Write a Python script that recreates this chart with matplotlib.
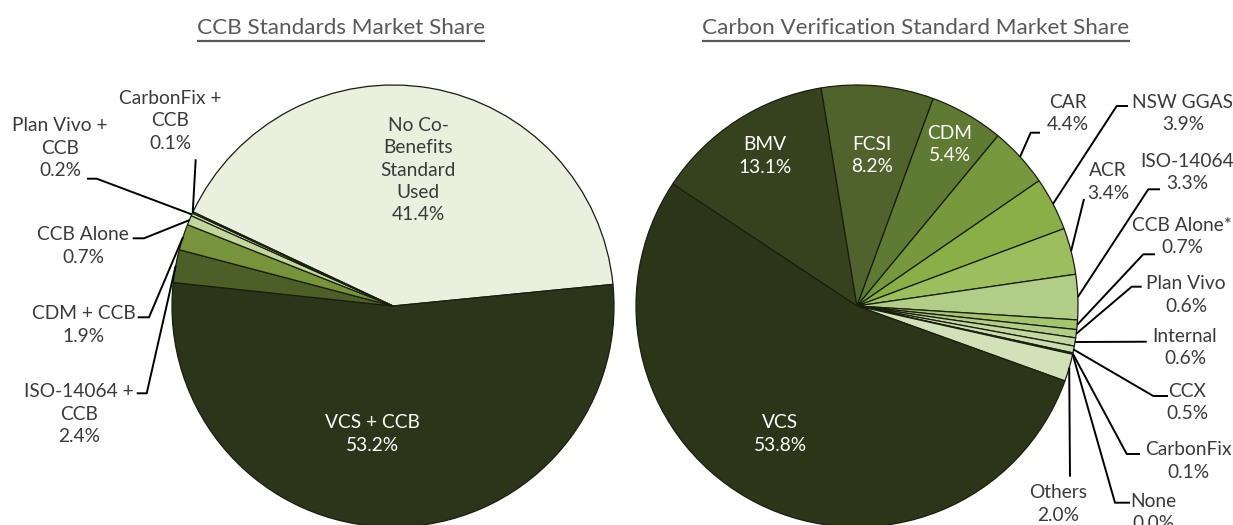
import matplotlib
matplotlib.use("Agg")
import matplotlib.pyplot as plt
import numpy as np

# ---------------- data ----------------
ccb_labels = ["No Co-\nBenefits\nStandard\nUsed", "VCS + CCB", "ISO-14064 +\nCCB", "CDM + CCB",
              "CCB Alone", "Plan Vivo +\nCCB", "CarbonFix +\nCCB"]
ccb_values = [41.4, 53.2, 2.4, 1.9, 0.7, 0.2, 0.1]
ccb_colors = ["#EBEFDD", "#2C3519", "#4D5F28", "#77933C", "#C3D69B", "#D7E4BD", "#E4ECD2"]

cvs_labels = ["BMV", "FCSI", "CDM", "CAR", "NSW GGAS", "ACR", "ISO-14064", "CCB Alone*",
              "Plan Vivo", "Internal", "CCX", "CarbonFix", "None", "Others", "VCS"]
cvs_values = [13.1, 8.2, 5.4, 4.4, 3.9, 3.4, 3.3, 0.7, 0.6, 0.6, 0.5, 0.1, 0.0, 2.0, 53.8]
cvs_colors = ["#36421E", "#50632D", "#5F7A32", "#78983E", "#8AAF47", "#9DBE5E", "#B2CD88",
              "#A5C46E", "#B2CD89", "#C3D7A0", "#CBDCAE", "#B9D197", "#C8DAA8", "#D2E1B8", "#2C3518"]

title_left = "CCB Standards Market Share"
title_right = "Carbon Verification Standard Market Share"

# ---------------- layout ----------------
W, H = 1233, 525
FONT = ["Lato", "DejaVu Sans"]
FS = 13.8
LS = 26.5 / (FS * 100 / 72)
TXT = "#3a3a3a"

def Y(y):
    return H - y

fig = plt.figure(figsize=(W / 100, H / 100), dpi=100)
ax = fig.add_axes([0, 0, 1, 1])

R = 221
c_left = (393, Y(306))
c_right = (857, Y(306))

wl, _ = ax.pie(ccb_values, colors=ccb_colors, startangle=154.8, counterclock=False,
               center=c_left, radius=R, normalize=True,
               wedgeprops=dict(edgecolor="#1a1e0e", linewidth=0.9))
wr, _ = ax.pie(cvs_values, colors=cvs_colors, startangle=146.5, counterclock=False,
               center=c_right, radius=R, normalize=True,
               wedgeprops=dict(edgecolor="#1a1e0e", linewidth=0.9))

ax.set_xlim(0, W)
ax.set_ylim(0, H)
ax.set_aspect("equal")
ax.axis("off")

def rim(w, center):
    a = np.deg2rad((w.theta1 + w.theta2) / 2)
    return center[0] + R * np.cos(a), center[1] + R * np.sin(a)

def label(x, y, s, color=TXT):
    ax.text(x, Y(y), s, ha="center", va="center", fontsize=FS, color=color,
            family=FONT, linespacing=LS)

# left pie labels: (text centre, colour, leader path points before rim)
left_layout = {
    0: ((418, 170), TXT, None),
    1: ((372, 434), "white", None),
    2: ((79, 414), TXT, [(136.7, 393.3), (146.7, 393.3)]),
    3: ((84, 325), TXT, [(137.7, 317.3), (149, 317.3)]),
    4: ((83, 246), TXT, [(132.7, 238.3), (144, 238.3)]),
    5: ((60, 148), TXT, [(87, 178.7), (96.7, 178.7)]),
    6: ((170, 121), TXT, [(195.7, 159.3)]),
}
for i, ((x, y), col, path) in left_layout.items():
    label(x, y, f"{ccb_labels[i]}\n{ccb_values[i]:.1f}%", col)
    if path:
        rx, ry = rim(wl[i], c_left)
        xs = [p[0] for p in path] + [rx]
        ys = [Y(p[1]) for p in path] + [ry]
        ax.plot(xs, ys, color="black", lw=1.4, solid_capstyle="butt", zorder=5)

right_layout = {
    0: ((765, 156), "white", None),
    1: ((872, 155.5), "white", None),
    2: ((950, 144.5), "white", None),
    3: ((1068, 113.5), TXT, [(1040, 132.7), (1030.7, 132.7)]),
    4: ((1183, 113.5), TXT, [(1128, 106), (1116.7, 106)]),
    5: ((1108, 182), TXT, [(1084, 199)]),
    6: ((1187, 172.5), TXT, [(1160, 189.3), (1148.3, 189.3)]),
    7: ((1182, 236.5), TXT, [(1155, 254.3), (1143.3, 254.3)]),
    8: ((1186, 295), TXT, [(1141.7, 286.7), (1131.7, 286.7)]),
    9: ((1185, 347.5), TXT, [(1146.7, 341.7)]),
    10: ((1187, 402.5), TXT, [(1168, 396), (1153.3, 396)]),
    11: ((1188, 461), TXT, [(1140, 454), (1126.7, 454)]),
    12: ((1153, 512.5), TXT, [(1130, 502.7), (1115, 502.7)]),
    13: ((1058, 504), TXT, [(1070, 476.7)]),
    14: ((780, 434), "white", None),
}
for i, ((x, y), col, path) in right_layout.items():
    label(x, y, f"{cvs_labels[i]}\n{cvs_values[i]:.1f}%", col)
    if path:
        rx, ry = rim(wr[i], c_right)
        xs = [p[0] for p in path] + [rx]
        ys = [Y(p[1]) for p in path] + [ry]
        ax.plot(xs, ys, color="black", lw=1.4, solid_capstyle="butt", zorder=5)

# titles with underline
titles = []
for s, cx in ((title_left, 341), (title_right, 916)):
    t = ax.text(cx, Y(28), s, ha="center", va="center", fontsize=16.2, color="#595959",
                family=FONT)
    titles.append(t)
fig.canvas.draw()
r = fig.canvas.get_renderer()
for t in titles:
    bb = t.get_window_extent(r)
    ax.plot([bb.x0, bb.x1], [Y(40.5), Y(40.5)], color="#595959", lw=1.6,
            solid_capstyle="butt")

fig.savefig("out.png", dpi=100)
